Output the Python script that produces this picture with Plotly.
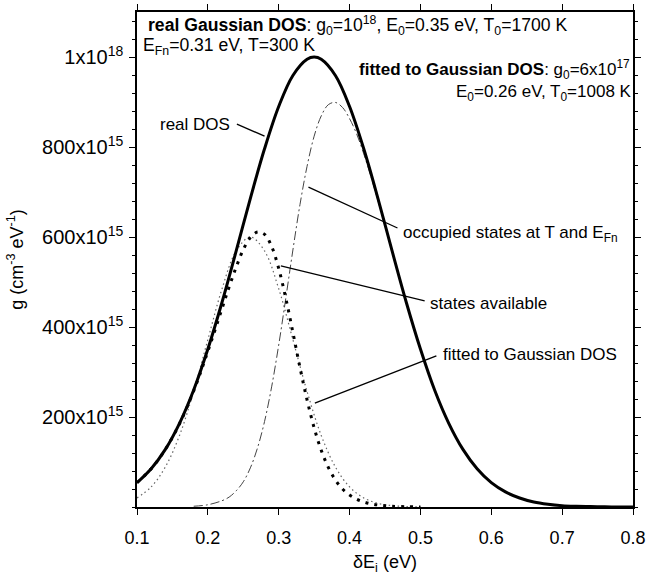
import plotly.graph_objects as go

# ---- data (values in units of 1e15 cm^-3 eV^-1) ----
x_real = [0.10, 0.12, 0.14, 0.16, 0.18, 0.20, 0.22, 0.24, 0.26, 0.28, 0.30, 0.32, 0.34, 0.35,
          0.36, 0.38, 0.40, 0.42, 0.44, 0.46, 0.48, 0.50, 0.52, 0.54, 0.56, 0.58, 0.60, 0.62,
          0.64, 0.66, 0.68, 0.70, 0.72, 0.74, 0.76, 0.78, 0.80]
g_real = [54, 85, 128, 186, 260, 351, 455, 569, 686, 796, 890, 959, 995, 1000,
          995, 959, 890, 796, 686, 569, 455, 351, 260, 186, 128, 85, 54, 33.5,
          20, 11, 6, 3, 1.7, 1.0, 0.4, 0.2, 0.1]

x_avail = [0.10, 0.12, 0.14, 0.16, 0.18, 0.20, 0.22, 0.23, 0.24, 0.25, 0.26, 0.27, 0.28, 0.29,
           0.30, 0.31, 0.32, 0.33, 0.34, 0.35, 0.36, 0.37, 0.38, 0.39, 0.40, 0.41, 0.42, 0.43,
           0.44, 0.45, 0.46, 0.48, 0.50]
g_avail = [54, 85, 128, 185, 258, 346, 441, 489, 533, 572, 599, 611, 606, 579,
           530, 464, 388, 310, 238, 176, 126, 88, 60, 40, 26.7, 17.4, 11.2, 7.1,
           4.5, 2.8, 1.7, 0.6, 0.2]

x_occ = [0.18, 0.20, 0.22, 0.23, 0.24, 0.25, 0.26, 0.27, 0.28, 0.29, 0.30, 0.31, 0.32, 0.33,
         0.34, 0.35, 0.36, 0.37, 0.38, 0.39, 0.40, 0.41, 0.42, 0.43, 0.44, 0.45, 0.46, 0.48,
         0.50, 0.52, 0.54, 0.56, 0.58, 0.60]
g_occ = [1.7, 5.0, 14, 22, 36, 56, 87, 131, 190, 267, 360, 464, 571, 672,
         757, 824, 869, 894, 899, 888, 863, 829, 785, 735, 681, 625, 567, 454,
         351, 260, 186, 128, 85, 54]

x_fit = [0.10, 0.12, 0.14, 0.16, 0.18, 0.20, 0.22, 0.24, 0.26, 0.28, 0.30, 0.32, 0.34, 0.36,
         0.38, 0.40, 0.42, 0.44, 0.46, 0.48, 0.50]
g_fit = [20.2, 44.6, 89, 159, 257, 372, 485, 569, 600, 569, 485, 372, 257, 159,
         89, 44.6, 20.2, 8.2, 3.0, 1.0, 0.3]

y_tickvals = [200, 400, 600, 800, 1000]
y_ticktext = ["200x10<sup>15</sup>", "400x10<sup>15</sup>", "600x10<sup>15</sup>",
              "800x10<sup>15</sup>", "1x10<sup>18</sup>"]
x_tickvals = [0.1, 0.2, 0.3, 0.4, 0.5, 0.6, 0.7, 0.8]

FONT = "Liberation Sans, Arial, sans-serif"

fig = go.Figure()
fig.add_trace(go.Scatter(x=x_fit, y=g_fit, mode="lines", line_shape="spline",
                         line=dict(color="#666666", width=1.2, dash="1.5px,3px")))
fig.add_trace(go.Scatter(x=x_occ, y=g_occ, mode="lines", line_shape="spline",
                         line=dict(color="#444444", width=1.0, dash="9px,3px,2px,3px")))
fig.add_trace(go.Scatter(x=x_avail, y=g_avail, mode="lines", line_shape="spline",
                         line=dict(color="black", width=3, dash="3px,6px")))
fig.add_trace(go.Scatter(x=x_real, y=g_real, mode="lines", line_shape="spline",
                         line=dict(color="black", width=3)))

# leader lines (data coordinates)
leaders = [
    (0.241, 851, 0.280, 824),
    (0.342, 711, 0.4676, 620),
    (0.303, 536, 0.506, 458),
    (0.351, 231, 0.5225, 336),
]
for x0, y0, x1, y1 in leaders:
    fig.add_shape(type="line", x0=x0, y0=y0, x1=x1, y1=y1, xref="x", yref="y",
                  line=dict(color="black", width=1.3))

anns = [
    dict(xref="x", x=0.234, y=851, text="real DOS", xanchor="right", size=17),
    dict(xref="x", x=0.472, y=607, text="occupied states at T and E<sub>Fn</sub>",
         xanchor="left", size=17),
    dict(xref="x", x=0.510, y=453, text="states available", xanchor="left", size=17),
    dict(xref="x", x=0.529, y=338, text="fitted to Gaussian DOS", xanchor="left", size=17),
    dict(xref="x", x=0.1125, y=1071,
         text="<b>real Gaussian DOS</b>: g<sub>0</sub>=10<sup>18</sup>, E<sub>0</sub>=0.35 eV, T<sub>0</sub>=1700 K",
         xanchor="left", size=17.6),
    dict(xref="x", x=0.106, y=1024, text="E<sub>Fn</sub>=0.31 eV, T=300 K", xanchor="left",
         size=17.6),
    dict(xref="paper", x=0.998, y=973,
         text="<b>fitted to Gaussian DOS</b>: g<sub>0</sub>=6x10<sup>17</sup>",
         xanchor="right", size=17),
    dict(xref="paper", x=1.003, y=921, text="E<sub>0</sub>=0.26 eV, T<sub>0</sub>=1008 K",
         xanchor="right", size=17),
]
for a in anns:
    sz = a.pop("size")
    fig.add_annotation(yref="y", showarrow=False, yanchor="middle",
                       font=dict(family=FONT, size=sz, color="black"), **a)

fig.update_layout(
    width=649, height=575,
    margin=dict(l=137, r=16, t=12, b=68),
    paper_bgcolor="white", plot_bgcolor="white",
    showlegend=False,
    font=dict(family=FONT, size=17, color="black"),
    xaxis=dict(range=[0.1, 0.8], tickvals=x_tickvals, ticktext=[f"{v:.1f}" for v in x_tickvals],
               tickfont=dict(family=FONT, size=18), automargin=False,
               showgrid=False, zeroline=False, showline=True, linecolor="black", linewidth=1.5,
               mirror="ticks", ticks="outside", ticklen=6, tickcolor="black",
               ticklabelstandoff=8,
               title=dict(text="δE<sub>i</sub> (eV)", standoff=10,
                          font=dict(family=FONT, size=18))),
    yaxis=dict(range=[0, 1100], tickvals=y_tickvals, ticktext=y_ticktext,
               tickfont=dict(family=FONT, size=20), automargin=False,
               showgrid=False, zeroline=False, showline=True, linecolor="black", linewidth=1.5,
               mirror="ticks", ticks="outside", ticklen=6, tickcolor="black",
               ticklabelstandoff=2,
               minor=dict(tickmode="linear", tick0=0, dtick=40, ticklen=3, ticks="outside",
                          tickcolor="black", showgrid=False),
               title=dict(text="g (cm<sup>-3</sup> eV<sup>-1</sup>)", standoff=14,
                          font=dict(family=FONT, size=18))),
)

fig.write_html("out.html")
